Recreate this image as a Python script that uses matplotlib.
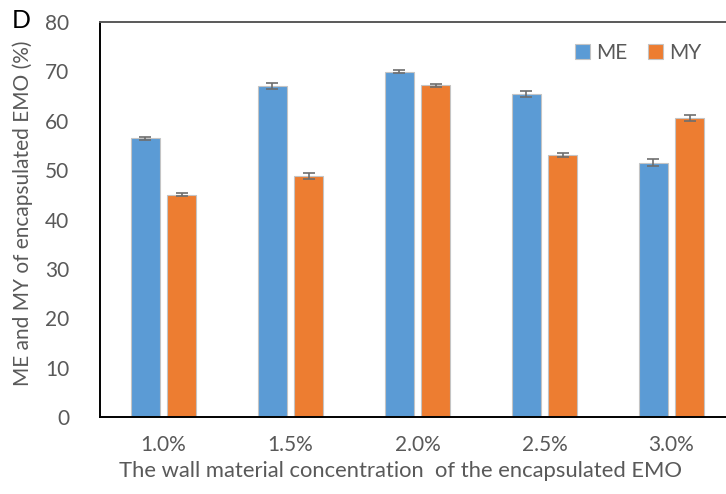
import numpy as np
import matplotlib.pyplot as plt

plt.rcParams['font.family'] = ['Lato', 'DejaVu Sans']

# wall material concentration groups
conc = ['1.0%', '1.5%', '2.0%', '2.5%', '3.0%']
me = [56.5, 67.1, 69.9, 65.5, 51.5]
me_err = [0.3, 0.6, 0.3, 0.6, 0.7]
my = [45.0, 48.8, 67.2, 53.0, 60.5]
my_err = [0.3, 0.6, 0.3, 0.4, 0.6]

blue = '#5B9BD5'
orange = '#ED7D31'
grey = '#595959'

fig = plt.figure(figsize=(7.26, 4.94), dpi=100)
ax = fig.add_axes([100 / 726, 77 / 494, 635 / 726, 395 / 494])

x = np.arange(len(conc))
w = 0.228
off = 0.142
err_kw = dict(ecolor='#6e6e6e', elinewidth=1.2, capsize=4, capthick=1.2)
ax.bar(x - off, me, w, yerr=me_err, color=blue, edgecolor='#c4c4c4',
       linewidth=0.8, error_kw=err_kw, label='ME')
ax.bar(x + off, my, w, yerr=my_err, color=orange, edgecolor='#c4c4c4',
       linewidth=0.8, error_kw=err_kw, label='MY')

ax.set_xlim(-0.5, 4.5)
ax.set_ylim(0, 80)
ax.set_yticks(range(0, 81, 10))
ax.set_xticks(x)
ax.set_xticklabels(conc)
ax.tick_params(axis='both', length=0, labelsize=15, labelcolor=grey)
ax.tick_params(axis='y', pad=22)
ax.tick_params(axis='x', pad=13)

for s in ['left', 'bottom']:
    ax.spines[s].set_color('black')
    ax.spines[s].set_linewidth(1.4)
ax.spines['top'].set_color(grey)
ax.spines['top'].set_linewidth(1.4)
ax.spines['right'].set_visible(False)

ax.set_xlabel('The wall material concentration  of the encapsulated EMO',
              fontsize=15.8, color=grey, labelpad=4)
ax.xaxis.label.set_x(0.474)
ax.set_ylabel('ME and MY of encapsulated EMO (%)', fontsize=15, color=grey,
              labelpad=9)
ax.yaxis.label.set_y(0.515)

leg = ax.legend(loc='upper right', bbox_to_anchor=(720 / 726, 1 - 24 / 494),
                bbox_transform=fig.transFigure, ncol=2, frameon=False,
                fontsize=15, handlelength=0.7, handleheight=0.7,
                handletextpad=0.3, columnspacing=1.0)
for t in leg.get_texts():
    t.set_color(grey)

fig.text(12 / 726, 1 - 20 / 494, 'D', fontsize=18, color='black',
         ha='left', va='center')

fig.savefig('out.png', dpi=100)
